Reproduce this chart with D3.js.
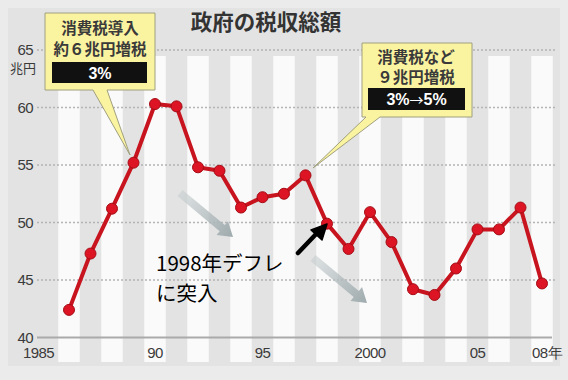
<!DOCTYPE html>
<html><head><meta charset="utf-8">
<script src="https://cdn.jsdelivr.net/npm/d3@7"></script>
<style>
html,body{margin:0;padding:0;background:#e9e9e9;}
svg{display:block;}
</style></head>
<body>
<svg id="chart" width="568" height="380"></svg>
<script>
const years = [1986,1987,1988,1989,1990,1991,1992,1993,1994,1995,1996,1997,1998,1999,2000,2001,2002,2003,2004,2005,2006,2007,2008];
const revenue = [42.4,47.3,51.2,55.2,60.3,60.1,54.8,54.5,51.3,52.2,52.5,54.1,49.9,47.7,50.9,48.3,44.2,43.7,46.0,49.4,49.4,51.3,44.7];
const yTicks = [40,45,50,55,60,65];
const xTickYears = [1985,1990,1995,2000,2005,2008];
const xTickLabels = ["1985","90","95","2000","05","08年"];
const title = "政府の税収総額";
const unitLabel = "兆円";
const callout1 = ["消費税導入","約６兆円増税","3%"];
const callout2 = ["消費税など","９兆円増税","3%","→","5%"];
const noteLines = ["1998年デフレ","に突入"];

const svg = d3.select("#chart");
const x = d3.scaleLinear().domain([1985,2008]).range([47.5,542]);
const y = d3.scaleLinear().domain([40,65]).range([337.5,50]);
const CJK = "'Noto Sans CJK JP','Noto Sans',sans-serif";
const NUM = "'Liberation Sans',Arial,sans-serif";

svg.append("rect").attr("width",568).attr("height",380).attr("fill","#ebebeb");
svg.append("rect").attr("x",8).attr("y",8).attr("width",552).attr("height",358).attr("fill","#e3e3e3");

// stripes
const allYears = d3.range(1985,2009);
const bw = x(1986)-x(1985);
svg.append("g").selectAll("rect").data(allYears.filter(d=>d%2===0)).join("rect")
  .attr("x",d=>x(d)-bw/2).attr("width",bw)
  .attr("y",56).attr("height",362-56)
  .attr("fill","#fafafa");

// gridlines
svg.append("g").selectAll("line").data(yTicks.filter(d=>d>40)).join("line")
  .attr("x1",37).attr("x2",556).attr("y1",d=>y(d)).attr("y2",d=>y(d))
  .attr("stroke","#b4b4b4").attr("stroke-width",1.3).attr("stroke-dasharray","2,2");
// baseline
svg.append("line").attr("x1",37).attr("x2",552).attr("y1",y(40)).attr("y2",y(40))
  .attr("stroke","#aaa").attr("stroke-width",2);

// y labels
svg.append("g").selectAll("text").data(yTicks).join("text")
  .attr("x",33).attr("y",d=>y(d)).attr("dy","0.36em")
  .attr("text-anchor","end").attr("font-family",NUM).attr("font-size",15)
  .attr("letter-spacing","-0.6").attr("fill","#3a3a3a").text(d=>d);
svg.append("text").attr("x",23).attr("y",68).attr("dy","0.35em").attr("text-anchor","middle")
  .attr("font-family",CJK).attr("font-size",13).attr("fill","#3a3a3a").text(unitLabel);

// x labels
const xOff = [-9,0,0,0,0,5];
svg.append("g").selectAll("text").data(xTickYears).join("text")
  .attr("x",(d,i)=>x(d)+xOff[i]).attr("y",353).attr("dy","0.36em")
  .attr("text-anchor","middle").attr("font-family",NUM).attr("font-size",15)
  .attr("letter-spacing","-0.6").attr("fill","#3a3a3a").text((d,i)=>xTickLabels[i]);

// title
svg.append("text").attr("x",266).attr("y",22).attr("dy","0.35em").attr("text-anchor","middle")
  .attr("font-family",CJK).attr("font-size",21.5).attr("font-weight","bold").attr("fill","#333").text(title);

// grey trend arrows
const defs = svg.append("defs");
const grad = defs.append("linearGradient").attr("id","ga").attr("x1","0").attr("x2","1").attr("y1","0").attr("y2","0");
grad.append("stop").attr("offset","0").attr("stop-color","#c8cfd1").attr("stop-opacity",0.6);
grad.append("stop").attr("offset","1").attr("stop-color","#9eaaad");
function fatArrow(x0,y0,x1,y1,w,hw,hl){
  const L = Math.hypot(x1-x0,y1-y0), a = Math.atan2(y1-y0,x1-x0)*180/Math.PI;
  const g = svg.append("g").attr("transform",`translate(${x0},${y0}) rotate(${a})`);
  g.append("path").attr("d",`M0,${-w/2}L${L-hl},${-w/2}L${L-hl},${-hw/2}L${L},0L${L-hl},${hw/2}L${L-hl},${w/2}L0,${w/2}Z`)
   .attr("fill","url(#ga)");
}
fatArrow(180,193,233,237,8,18,14);
fatArrow(313,258,367,303,8,18,14);

// data line
const line = d3.line().x((d,i)=>x(years[i])).y(d=>y(d));
svg.append("path").datum(revenue).attr("d",line).attr("fill","none")
  .attr("stroke","#c8141e").attr("stroke-width",4).attr("stroke-linejoin","round");
svg.append("g").selectAll("circle").data(revenue).join("circle")
  .attr("cx",(d,i)=>x(years[i])).attr("cy",d=>y(d)).attr("r",5.5)
  .attr("fill","#dc1423").attr("stroke","#a50d16").attr("stroke-width",1);

// callout 1
svg.append("path").attr("d","M45,13H155V90H107L130,155L93,90H45Z")
  .attr("fill","#faf3a0").attr("stroke","#a0a080").attr("stroke-width",1);
svg.append("text").attr("x",100).attr("y",28).attr("dy","0.36em").attr("text-anchor","middle")
  .attr("font-family",CJK).attr("font-size",15.5).attr("font-weight","bold").attr("fill","#3a3a3a").text(callout1[0]);
svg.append("text").attr("x",100).attr("y",49).attr("dy","0.36em").attr("text-anchor","middle")
  .attr("font-family",CJK).attr("font-size",15.5).attr("font-weight","bold").attr("fill","#3a3a3a").text(callout1[1]);
svg.append("rect").attr("x",52).attr("y",62).attr("width",95).attr("height",21).attr("fill","#111");
svg.append("text").attr("x",100).attr("y",73).attr("dy","0.36em").attr("text-anchor","middle")
  .attr("font-family",NUM).attr("font-size",16).attr("font-weight","bold").attr("fill","#fff").text(callout1[2]);

// callout 2
svg.append("path").attr("d","M362,43H472V117H380L313,168L366,117H362Z")
  .attr("fill","#faf3a0").attr("stroke","#a0a080").attr("stroke-width",1);
svg.append("text").attr("x",416).attr("y",57).attr("dy","0.36em").attr("text-anchor","middle")
  .attr("font-family",CJK).attr("font-size",15.5).attr("font-weight","bold").attr("fill","#3a3a3a").text(callout2[0]);
svg.append("text").attr("x",416).attr("y",77).attr("dy","0.36em").attr("text-anchor","middle")
  .attr("font-family",CJK).attr("font-size",15.5).attr("font-weight","bold").attr("fill","#3a3a3a").text(callout2[1]);
svg.append("rect").attr("x",368).attr("y",88).attr("width",97).attr("height",22).attr("fill","#111");
const t2 = svg.append("text").attr("x",416.5).attr("y",99.5).attr("dy","0.36em").attr("text-anchor","middle")
  .attr("font-family",NUM).attr("font-size",16).attr("font-weight","bold").attr("fill","#fff");
t2.append("tspan").text(callout2[2]);
t2.append("tspan").attr("font-family",CJK).attr("font-size",14).attr("font-weight","normal").text(callout2[3]);
t2.append("tspan").text(callout2[4]);

// black arrow
svg.append("line").attr("x1",298).attr("y1",253).attr("x2",318).attr("y2",232)
  .attr("stroke","#000").attr("stroke-width",4.5).attr("stroke-linecap","round");
svg.append("path").attr("d","M327,224L311,230L322,240Z").attr("fill","#000").attr("stroke","#000").attr("stroke-width",1.5).attr("stroke-linejoin","round");

// annotation text
svg.append("g").selectAll("text").data(noteLines).join("text")
  .attr("x",156).attr("y",(d,i)=>264+i*30).attr("dy","0.36em")
  .attr("font-family",CJK).attr("font-size",20.5).attr("fill","#000").text(d=>d);
</script>
</body></html>
